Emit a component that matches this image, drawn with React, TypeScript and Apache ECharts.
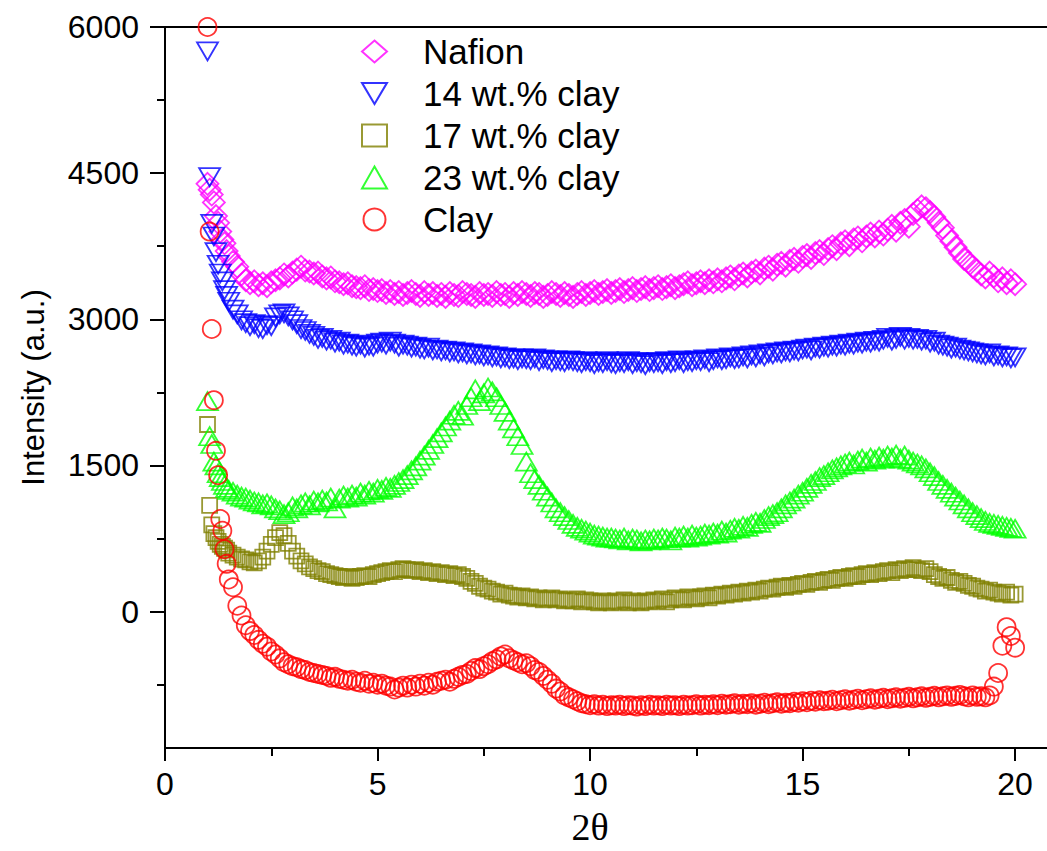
import React, { useEffect, useRef } from "react";
import * as echarts from "echarts";

// 2θ sampling positions
const X = [
  1.0, 1.05, 1.1, 1.15, 1.2, 1.25, 1.3, 1.35, 1.4, 1.45, 1.5,
  1.6, 1.7, 1.8, 1.9, 2.0, 2.1, 2.2, 2.3, 2.4, 2.5,
  2.6, 2.7, 2.8, 2.9, 3.0, 3.1, 3.2, 3.3, 3.4, 3.5,
  3.6, 3.7, 3.8, 3.9, 4.0, 4.1, 4.2, 4.3, 4.4, 4.5,
  4.6, 4.7, 4.8, 4.9, 5.0, 5.1, 5.2, 5.3, 5.4, 5.5,
  5.6, 5.7, 5.8, 5.9, 6.0, 6.1, 6.2, 6.3, 6.4, 6.5,
  6.6, 6.7, 6.8, 6.9, 7.0, 7.1, 7.2, 7.3, 7.4, 7.5,
  7.6, 7.7, 7.8, 7.9, 8.0, 8.1, 8.2, 8.3, 8.4, 8.5,
  8.6, 8.7, 8.8, 8.9, 9.0, 9.1, 9.2, 9.3, 9.4, 9.5,
  9.6, 9.7, 9.8, 9.9, 10.0, 10.1, 10.2, 10.3, 10.4, 10.5,
  10.6, 10.7, 10.8, 10.9, 11.0, 11.1, 11.2, 11.3, 11.4, 11.5,
  11.6, 11.7, 11.8, 11.9, 12.0, 12.1, 12.2, 12.3, 12.4, 12.5,
  12.6, 12.7, 12.8, 12.9, 13.0, 13.1, 13.2, 13.3, 13.4, 13.5,
  13.6, 13.7, 13.8, 13.9, 14.0, 14.1, 14.2, 14.3, 14.4, 14.5,
  14.6, 14.7, 14.8, 14.9, 15.0, 15.1, 15.2, 15.3, 15.4, 15.5,
  15.6, 15.7, 15.8, 15.9, 16.0, 16.1, 16.2, 16.3, 16.4, 16.5,
  16.6, 16.7, 16.8, 16.9, 17.0, 17.1, 17.2, 17.3, 17.4, 17.5,
  17.6, 17.7, 17.8, 17.9, 18.0, 18.1, 18.2, 18.3, 18.4, 18.5,
  18.6, 18.7, 18.8, 18.9, 19.0, 19.1, 19.2, 19.3, 19.4, 19.5,
  19.6, 19.7, 19.8, 19.9, 20.0,
];

const NAFION = [
  4390, 4330, 4280, 4200, 4060, 3990, 3900, 3820, 3780, 3700, 3650,
  3590, 3540, 3460, 3400, 3370, 3390, 3350, 3370, 3340, 3380,
  3400, 3420, 3460, 3440, 3480, 3510, 3540, 3500, 3490, 3470,
  3480, 3440, 3420, 3430, 3390, 3380, 3360, 3370, 3340, 3330,
  3320, 3340, 3300, 3310, 3290, 3300, 3270, 3290, 3260, 3280,
  3250, 3270, 3290, 3260, 3240, 3280, 3250, 3270, 3240, 3260,
  3230, 3270, 3250, 3240, 3280, 3260, 3250, 3230, 3270, 3250,
  3260, 3240, 3280, 3250, 3260, 3230, 3270, 3250, 3280, 3260,
  3240, 3270, 3260, 3230, 3250, 3280, 3260, 3240, 3270, 3250,
  3230, 3260, 3280, 3250, 3270, 3290, 3260, 3280, 3300, 3270,
  3290, 3310, 3280, 3300, 3320, 3290, 3310, 3330, 3300, 3320,
  3340, 3310, 3330, 3350, 3320, 3340, 3360, 3380, 3350, 3370,
  3390, 3370, 3400, 3380, 3410, 3390, 3420, 3440, 3410, 3450,
  3470, 3440, 3480, 3500, 3470, 3520, 3540, 3510, 3560, 3580,
  3550, 3600, 3620, 3590, 3640, 3660, 3630, 3680, 3700, 3670,
  3720, 3750, 3720, 3780, 3800, 3760, 3820, 3840, 3800, 3850,
  3880, 3850, 3900, 3870, 3920, 3960, 3910, 3990, 4020, 3950,
  4080, 4120, 4160, 4140, 4100, 4050, 3990, 3940, 3860, 3800,
  3740, 3680, 3620, 3590, 3540, 3500, 3460, 3430, 3480, 3440,
  3390, 3420, 3370, 3400, 3360,
];

const CLAY14 = [
  5750, 4460, 3980, 3850, 3690, 3560, 3470, 3390, 3300, 3240, 3180,
  3100, 3050, 2990, 2960, 2930, 2950, 2910, 2900, 2940, 2930,
  3020, 3050, 3060, 3030, 2990, 2950, 2900, 2880, 2850, 2830,
  2800, 2810, 2780, 2790, 2760, 2770, 2740, 2750, 2730, 2720,
  2740, 2710, 2730, 2720, 2750, 2760, 2740, 2770, 2750, 2720,
  2740, 2730, 2710, 2720, 2700, 2690, 2710, 2680, 2690, 2670,
  2680, 2660, 2670, 2650, 2660, 2640, 2650, 2630, 2640, 2620,
  2630, 2610, 2620, 2600, 2610, 2590, 2600, 2580, 2600, 2590,
  2580, 2600, 2570, 2590, 2580, 2560, 2580, 2570, 2560, 2580,
  2570, 2560, 2550, 2570, 2560, 2540, 2560, 2550, 2570, 2550,
  2540, 2560, 2550, 2570, 2540, 2560, 2550, 2530, 2560, 2550,
  2560, 2540, 2570, 2550, 2560, 2580, 2550, 2570, 2560, 2580,
  2570, 2590, 2560, 2580, 2600, 2580, 2590, 2610, 2590, 2600,
  2620, 2600, 2630, 2610, 2640, 2620, 2650, 2640, 2660, 2650,
  2670, 2660, 2680, 2670, 2690, 2700, 2680, 2710, 2700, 2720,
  2710, 2730, 2720, 2740, 2730, 2750, 2740, 2760, 2750, 2770,
  2760, 2780, 2770, 2790, 2810, 2780, 2800, 2820, 2790, 2810,
  2790, 2800, 2780, 2790, 2760, 2770, 2740, 2730, 2720, 2700,
  2710, 2690, 2680, 2670, 2660, 2650, 2640, 2630, 2650, 2620,
  2630, 2610, 2620, 2600, 2610,
];

const CLAY17 = [
  1920, 1090, 890, 800, 760, 720, 690, 670, 650, 630, 600,
  580, 560, 540, 530, 510, 500, 520, 560, 620, 690,
  760, 810, 780, 700, 620, 570, 520, 490, 460, 440,
  420, 410, 390, 380, 370, 360, 350, 360, 340, 350,
  360, 370, 360, 380, 390, 400, 410, 420, 410, 430,
  440, 430, 420, 430, 410, 420, 400, 410, 390, 400,
  380, 390, 370, 380, 360, 340, 310, 290, 260, 240,
  230, 210, 200, 180, 190, 170, 160, 150, 160, 140,
  150, 130, 140, 120, 130, 140, 120, 130, 110, 120,
  110, 130, 100, 120, 110, 100, 90, 110, 100, 90,
  110, 100, 120, 90, 110, 100, 90, 110, 100, 120,
  110, 130, 100, 120, 140, 130, 120, 150, 140, 130,
  150, 160, 140, 170, 160, 180, 170, 190, 180, 200,
  190, 210, 200, 220, 210, 230, 240, 230, 250, 260,
  250, 270, 260, 280, 290, 280, 300, 310, 300, 320,
  330, 320, 340, 350, 340, 360, 370, 360, 380, 390,
  380, 400, 390, 410, 420, 400, 430, 420, 440, 430,
  450, 430, 420, 440, 410, 380, 360, 340, 350, 320,
  300, 310, 290, 270, 260, 240, 230, 210, 220, 200,
  190, 180, 200, 170, 180,
];

const CLAY23 = [
  2160, 1800, 1720, 1540, 1500, 1420, 1380, 1340, 1300, 1270, 1250,
  1230, 1200, 1180, 1170, 1150, 1130, 1120, 1100, 1110, 1090,
  1060, 1040, 1000, 1020, 1080, 1060, 1100, 1120, 1090, 1140,
  1120, 1150, 1130, 1170, 1060, 1160, 1190, 1170, 1200, 1180,
  1220, 1200, 1240, 1220, 1260, 1250, 1280, 1270, 1300, 1330,
  1360, 1400, 1450, 1490, 1550, 1600, 1660, 1720, 1780, 1840,
  1900, 1960, 2020, 2060, 2010, 2120, 2200, 2280, 2160, 2240,
  2300, 2260, 2200, 2120, 2050, 1960, 1880, 1800, 1710, 1540,
  1420, 1360, 1300, 1240, 1180, 1120, 1060, 1020, 980, 940,
  900, 870, 850, 830, 810, 790, 780, 770, 760, 760,
  750, 740, 760, 730, 750, 740, 720, 740, 730, 750,
  740, 760, 750, 730, 770, 760, 780, 760, 790, 770,
  780, 800, 790, 810, 800, 830, 810, 840, 860, 850,
  880, 870, 900, 920, 910, 950, 980, 1000, 1020, 1060,
  1100, 1130, 1160, 1200, 1230, 1270, 1310, 1340, 1380, 1400,
  1430, 1460, 1480, 1500, 1520, 1540, 1510, 1550, 1570, 1540,
  1580, 1560, 1590, 1570, 1600, 1580, 1610, 1570, 1600, 1560,
  1540, 1520, 1500, 1470, 1430, 1390, 1340, 1300, 1260, 1220,
  1180, 1140, 1100, 1060, 1020, 990, 960, 930, 910, 900,
  890, 880, 870, 860, 850,
];

const CLAY = [
  6000, 3900, 2900, 2170, 1650, 1400, 950, 830, 640, 490, 330,
  250, 60, -40, -140, -200, -240, -290, -330, -360, -410,
  -440, -480, -520, -540, -560, -570, -590, -600, -620, -630,
  -640, -650, -660, -680, -670, -690, -700, -710, -700, -720,
  -730, -710, -740, -730, -750, -740, -760, -770, -800, -780,
  -760, -780, -750, -770, -740, -760, -730, -750, -720, -710,
  -700, -720, -690, -670, -650, -640, -610, -580, -590, -560,
  -540, -510, -490, -460, -440, -480, -500, -520, -540, -530,
  -560, -600, -620, -660, -700, -740, -790, -820, -860, -880,
  -900, -920, -940, -950, -960, -950, -965, -955, -970, -960,
  -965, -955, -970, -960, -965, -975, -960, -970, -955, -965,
  -960, -970, -955, -965, -960, -970, -955, -965, -960, -950,
  -965, -955, -960, -950, -960, -945, -955, -950, -940, -955,
  -945, -950, -940, -955, -945, -935, -950, -940, -930, -945,
  -935, -940, -925, -935, -920, -930, -915, -925, -910, -920,
  -915, -905, -920, -910, -900, -915, -905, -895, -910, -900,
  -890, -905, -895, -885, -900, -890, -880, -895, -885, -875,
  -890, -880, -870, -885, -875, -865, -880, -870, -860, -875,
  -865, -855, -870, -880, -860, -875, -870, -880, -860, -770,
  -630, -350, -160, -250, -370,
];

const X_MAJOR = [0, 5, 10, 15, 20];
const X_MINOR = [2.5, 7.5, 12.5, 17.5];
const Y_MAJOR = [0, 1500, 3000, 4500, 6000];
const Y_MINOR = [-750, 750, 2250, 3750, 5250];

const SERIES_NAMES = ["Nafion", "14 wt.% clay", "17 wt.% clay", "23 wt.% clay", "Clay"];
const SERIES_VALUES = [NAFION, CLAY14, CLAY17, CLAY23, CLAY];

const DOWN_TRI = "path://M0,0L20,0L10,17Z";
const STYLES = [
  { color: "#FF00FF", symbol: "diamond", size: [22, 22] },
  { color: "#0000FF", symbol: DOWN_TRI, size: [21, 18] },
  { color: "#808000", symbol: "rect", size: [15, 15] },
  { color: "#00FF00", symbol: "triangle", size: [21, 18] },
  { color: "#FF0000", symbol: "circle", size: [18, 18] },
];

const SANS = '"Liberation Sans", Arial, Helvetica, sans-serif';
const SERIF = '"Liberation Serif", "Times New Roman", serif';

export default function App() {
  const ref = useRef<HTMLDivElement>(null);

  useEffect(() => {
    if (!ref.current) return;
    const chart = echarts.init(ref.current, null, { renderer: "svg" });
    const XMAX = 20.75;
    const YMIN = -1400;
    const YMAX = 6000;
    const black = "#000";
    const plain = (v: number) => String(v);

    const option: any = {
      animation: false,
      backgroundColor: "#fff",
      textStyle: { fontFamily: SANS },
      grid: { left: 165, right: 0, top: 27, bottom: 100, containLabel: false },
      legend: {
        orient: "vertical",
        left: 356,
        top: 29,
        itemWidth: 25,
        itemHeight: 22,
        itemGap: 7,
        selectedMode: false,
        textStyle: { fontSize: 35, color: black, fontFamily: SANS, padding: [0, 0, 0, 31] },
        data: SERIES_NAMES.map((n, i) => ({
          name: n,
          icon: STYLES[i].symbol,
          itemStyle: { color: "rgba(0,0,0,0)", borderColor: STYLES[i].color, borderWidth: 2 },
        })),
      },
      xAxis: [
        {
          type: "value",
          min: 0,
          max: XMAX,
          position: "bottom",
          axisLine: { show: true, onZero: false, lineStyle: { color: black, width: 2 } },
          axisTick: { show: true, customValues: X_MAJOR, length: 13, lineStyle: { color: black, width: 2 } },
          axisLabel: { customValues: X_MAJOR, formatter: plain, fontSize: 32, color: black, margin: 20, fontFamily: SANS },
          splitLine: { show: false },
          name: "2θ",
          nameLocation: "middle",
          nameGap: 60,
          nameTextStyle: { fontFamily: SERIF, fontSize: 38, color: black, padding: [0, 32, 0, 0] },
        },
        {
          type: "value",
          min: 0,
          max: XMAX,
          position: "bottom",
          axisLine: { show: false, onZero: false },
          axisTick: { show: true, customValues: X_MINOR, length: 8, lineStyle: { color: black, width: 2 } },
          axisLabel: { show: false },
          splitLine: { show: false },
        },
        {
          type: "value",
          min: 0,
          max: XMAX,
          position: "top",
          axisLine: { show: true, onZero: false, lineStyle: { color: black, width: 2 } },
          axisTick: { show: false },
          axisLabel: { show: false },
          splitLine: { show: false },
        },
      ],
      yAxis: [
        {
          type: "value",
          min: YMIN,
          max: YMAX,
          position: "left",
          axisLine: { show: true, onZero: false, lineStyle: { color: black, width: 2 } },
          axisTick: { show: true, customValues: Y_MAJOR, length: 15, lineStyle: { color: black, width: 2 } },
          axisLabel: { customValues: Y_MAJOR, formatter: plain, fontSize: 32, color: black, margin: 26, fontFamily: SANS },
          splitLine: { show: false },
          name: "Intensity (a.u.)",
          nameLocation: "middle",
          nameGap: 116,
          nameTextStyle: { fontFamily: SANS, fontSize: 31, color: black },
        },
        {
          type: "value",
          min: YMIN,
          max: YMAX,
          position: "left",
          axisLine: { show: false, onZero: false },
          axisTick: { show: true, customValues: Y_MINOR, length: 8, lineStyle: { color: black, width: 2 } },
          axisLabel: { show: false },
          splitLine: { show: false },
        },
      ],
      series: SERIES_NAMES.map((n, i) => ({
        name: n,
        type: "scatter",
        xAxisIndex: 0,
        yAxisIndex: 0,
        symbol: STYLES[i].symbol,
        symbolSize: STYLES[i].size,
        itemStyle: { color: "rgba(0,0,0,0)", borderColor: STYLES[i].color, borderWidth: 1.8 },
        emphasis: { disabled: true },
        data: X.map((x, k) => [x, SERIES_VALUES[i][k]]),
      })),
    };

    chart.setOption(option);
    return () => chart.dispose();
  }, []);

  return (
    <div
      ref={ref}
      style={{ position: "fixed", left: 0, top: 0, width: 1047, height: 851, background: "#fff" }}
    />
  );
}
